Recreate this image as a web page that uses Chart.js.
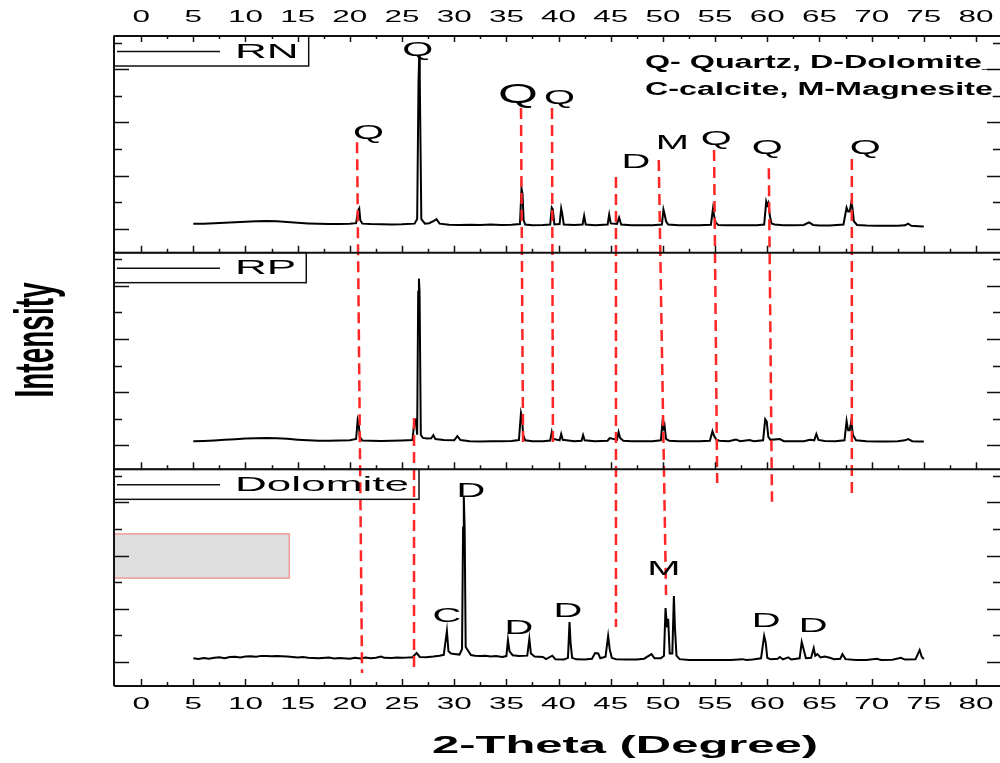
<!DOCTYPE html>
<html>
<head>
<meta charset="utf-8">
<script src="https://cdn.jsdelivr.net/npm/chart.js@4.4.1/dist/chart.umd.min.js"></script>
<style>
  html, body { margin: 0; padding: 0; background: #fff; }
  #wrap { width: 1000px; height: 763px; }
</style>
</head>
<body>
<div id="wrap"><canvas id="xrdChart" width="1000" height="763"></canvas></div>
<script>
// 2-theta tick labels (top and bottom axes)
const xTickLabels = [0, 5, 10, 15, 20, 25, 30, 35, 40, 45, 50, 55, 60, 65, 70, 75, 80];
// intensity ticks inside every panel (panel units 0-100), no labels
const yTickOffsets = [11.1, 23.4, 35.6, 47.9, 60.2, 72.5, 84.8, 97.0];

const panelNames = ["RN", "RP", "Dolomite"];
const panelOffsets = [200, 100, 0];

// [2-theta, intensity in panel units]
const rnPattern = [
  [5, 13.3], [6, 13.4], [7, 13.6], [8, 13.8], [9, 14.0], [10, 14.3], [11, 14.5], [12, 14.6],
  [13, 14.5], [14, 14.2], [15, 13.8], [16, 13.5], [17, 13.3], [18, 13.2], [19, 13.2], [20, 13.3],
  [20.6, 13.6], [20.8, 19.5], [20.9, 20.4], [21.0, 15], [21.2, 13.4], [22, 13.2], [23, 13.1],
  [24, 13.0], [25, 13.1], [26.2, 13.4], [26.45, 15.5], [26.58, 79], [26.64, 90], [26.7, 80],
  [26.85, 15.5], [27.2, 13.4], [27.6, 13.6], [28.0, 14.5], [28.3, 15.5], [28.6, 13.4], [29.5, 12.9],
  [30.5, 12.8], [31.5, 12.9], [32.5, 12.8], [33.5, 13.0], [34.5, 12.8], [35.5, 12.9], [36.3, 13.2],
  [36.45, 29.6], [36.55, 27], [36.65, 15], [36.8, 13], [37.5, 12.7], [38.5, 12.8], [39.2, 13],
  [39.35, 20.8], [39.45, 20], [39.6, 13], [40.1, 13.2], [40.25, 20.4], [40.35, 18], [40.5, 13],
  [41.5, 12.8], [42.3, 13], [42.45, 17], [42.6, 13], [43.5, 12.7], [44.7, 13], [44.85, 17.6],
  [45.0, 13.5], [45.6, 13.3], [45.8, 16.2], [46.0, 13], [47, 12.6], [48, 12.6], [49, 12.7],
  [49.9, 13], [50.05, 19.9], [50.15, 18], [50.3, 14.5], [50.5, 13], [51.5, 12.6], [52.5, 12.6],
  [53.5, 12.7], [54.6, 12.9], [54.8, 20.4], [54.9, 17], [55.05, 14], [55.3, 12.8], [56, 12.6],
  [57, 12.7], [58, 12.6], [59, 12.6], [59.7, 13], [59.9, 23.6], [60.0, 22], [60.1, 23],
  [60.25, 17], [60.4, 13.5], [60.7, 13], [61.5, 12.6], [62.5, 12.6], [63.5, 12.8], [64.0, 14],
  [64.4, 12.8], [65, 12.5], [66, 12.5], [67.3, 13], [67.6, 20.8], [67.75, 19], [67.9, 19],
  [68.05, 23], [68.15, 21], [68.3, 14.5], [68.6, 12.8], [69.5, 12.5], [70.5, 12.4], [71.5, 12.4],
  [72.5, 12.4], [73.2, 12.6], [73.5, 13.4], [73.8, 12.4], [74.5, 12.2], [75, 12.1]
];

const rpPattern = [
  [5, 13.0], [6, 13.1], [7, 13.3], [8, 13.6], [9, 13.9], [10, 14.2], [11, 14.4], [12, 14.5],
  [13, 14.4], [14, 14.1], [15, 13.7], [16, 13.4], [17, 13.2], [18, 13.2], [19, 13.3], [20, 13.4],
  [20.6, 14], [20.75, 22.8], [20.85, 21], [20.95, 15], [21.2, 13.3], [22, 13.2], [23, 13.1],
  [24, 13.2], [25, 13.3], [26.0, 13.5], [26.2, 23], [26.3, 23], [26.45, 16], [26.55, 82],
  [26.62, 88], [26.68, 82], [26.8, 16], [27.0, 14.5], [27.4, 14.2], [27.8, 14.3], [28.0, 15.8],
  [28.2, 14], [29, 13.5], [30.0, 13.4], [30.3, 15.3], [30.6, 13.5], [31.5, 13], [32.5, 12.9],
  [33.5, 13], [34.5, 13], [35.5, 13.1], [36.2, 13.5], [36.4, 26], [36.5, 24], [36.6, 16],
  [36.8, 13.4], [37.5, 13], [38.5, 13], [39.2, 13.3], [39.35, 17.2], [39.5, 14], [40.1, 13.4],
  [40.25, 16.3], [40.4, 13.6], [41.5, 13], [42.2, 13.2], [42.35, 15.8], [42.5, 13.4], [43.5, 13],
  [44.7, 13.2], [44.9, 14.4], [45.6, 13.6], [45.75, 17.2], [45.9, 14.5], [46.2, 13.2], [47, 13],
  [48, 13], [49, 13], [49.8, 13.4], [49.95, 21.3], [50.05, 19], [50.15, 20.5], [50.3, 14],
  [50.6, 13.2], [51.5, 13], [52.5, 13], [53.5, 13], [54.5, 13.2], [54.75, 17.6], [54.9, 15.5],
  [55.1, 13.8], [55.4, 13.2], [56.3, 13], [57.0, 13.8], [57.4, 13], [58.3, 13.5], [58.7, 13],
  [59.6, 13.4], [59.8, 23.1], [59.95, 22], [60.1, 15], [60.3, 13.6], [61.2, 14], [61.6, 13],
  [62.5, 13], [63.5, 13], [64.1, 13.6], [64.5, 13.4], [64.7, 16.3], [64.9, 13.6], [65.5, 13.1],
  [66.5, 13], [67.4, 13.4], [67.6, 22.3], [67.75, 18], [67.9, 18], [68.05, 22.3], [68.2, 16],
  [68.5, 13.4], [69.5, 13], [70.5, 12.9], [71.5, 12.9], [72.5, 13], [73.2, 13.4], [73.5, 14],
  [73.9, 13], [74.5, 12.8], [75, 12.8]
];

const dolomitePattern = [
  [5, 12.8], [5.5, 12.5], [6, 12.9], [6.5, 12.6], [7, 13.0], [7.5, 13.3], [8, 12.8], [8.5, 13.4],
  [9, 13.5], [9.5, 13.2], [10, 13.6], [10.5, 13.7], [11, 13.5], [11.5, 13.9], [12, 13.9],
  [12.5, 13.7], [13, 13.8], [14, 13.6], [15, 13.2], [15.5, 13.4], [16, 13.0], [17, 12.8],
  [18, 13.1], [18.5, 12.7], [19, 12.9], [20, 12.6], [20.5, 13.0], [21, 12.7], [21.5, 13.2],
  [22, 12.8], [22.5, 13.0], [23, 13.6], [23.3, 13], [24, 12.9], [24.5, 13.2], [25, 13.0],
  [25.5, 13.1], [26.0, 13.3], [26.4, 15.2], [26.7, 13.4], [27.3, 13.3], [28, 13.6], [28.6, 14],
  [29.0, 14.4], [29.3, 25.4], [29.45, 16], [29.7, 15], [30.0, 14.8], [30.5, 14.5], [30.75, 17],
  [30.85, 73], [30.92, 87.2], [31.0, 73], [31.1, 18], [31.3, 16.5], [31.6, 14.3], [32, 14],
  [32.5, 13.8], [33, 14], [33.5, 13.6], [34, 13.8], [34.6, 13.4], [35.0, 13.8], [35.15, 21.2],
  [35.3, 16], [35.6, 14.2], [36.2, 13.8], [37.0, 14], [37.2, 21.7], [37.35, 15], [37.7, 13.6],
  [38.5, 13.4], [38.8, 12.4], [39.4, 14], [39.7, 12.3], [40.5, 12.2], [40.9, 13], [41.05, 29.5],
  [41.15, 20], [41.3, 13], [41.7, 12.3], [42.5, 12.2], [43.2, 12.6], [43.5, 15.2], [43.8, 15],
  [44.0, 12.8], [44.5, 13.5], [44.75, 23.1], [44.9, 17], [45.1, 13], [45.5, 12.4], [46.5, 12.2],
  [47.5, 12.2], [48.2, 12.6], [48.9, 14.7], [49.2, 12.8], [49.8, 12.8], [50.1, 14], [50.25, 36],
  [50.4, 27], [50.5, 31], [50.65, 15], [50.9, 15], [51.05, 41.5], [51.15, 27], [51.3, 14],
  [51.6, 12.4], [52.5, 12], [53.5, 12], [54.5, 12], [55.5, 12], [56.5, 12], [57.6, 12.4],
  [58.0, 12], [58.6, 12.2], [59.4, 12.8], [59.7, 23.1], [59.85, 20], [60.0, 13], [60.3, 12.4],
  [61.0, 12.6], [61.2, 13.4], [61.5, 12.3], [62.0, 13.2], [62.3, 12.2], [63.1, 12.8],
  [63.3, 20.3], [63.45, 17.5], [63.7, 12.8], [64.2, 13], [64.45, 17.5], [64.6, 14], [64.8, 14.7],
  [65.1, 13.2], [65.5, 13.6], [66.0, 13], [66.4, 12.4], [67.0, 12.6], [67.2, 14.7], [67.5, 12.4],
  [68.5, 12], [69.5, 12], [70.5, 12.6], [70.9, 12], [72, 12.1], [72.8, 13], [73.2, 12.2],
  [74.2, 12.3], [74.6, 16.6], [74.8, 13.5], [75, 12.4]
];

// red dashed reference lines: 2-theta at top/bottom end, stacked intensity at top/bottom end
const refLineTheta = [[20.69, 21.17], [26.15, 26.15], [36.4, 36.6], [39.37, 39.46], [45.5, 45.5],
  [49.6, 50.3], [54.9, 55.2], [60.15, 60.45], [68.1, 68.1]];
const refLineSpan = [[251, 6], [123.7, 6], [266.8, 112.2], [266.8, 112.2], [234.9, 27.2],
  [242.8, 42], [247.4, 93.7], [239, 85], [243.2, 89]];

// phase letters
const phaseText = ["Q", "Q", "Q", "Q", "D", "M", "Q", "Q", "Q", "D", "C", "D", "D", "M", "D", "D"];
const phaseTheta = [21.8, 26.5, 36.1, 40.1, 47.4, 50.9, 55.1, 60.0, 69.4, 31.6, 29.3, 36.2, 40.9, 50.1, 59.9, 64.4];
const phaseY = [256, 294.4, 273.7, 272, 242.7, 251.5, 253, 249, 249, 90.9, 32.8, 27.7, 35.5, 54.9, 30.5, 28.6];

const FONT = '"Liberation Sans", Arial, sans-serif';

// text drawn wider than normal, like the stretched original
function wideText(ctx, text, x, capMid, size, weight, sx, align) {
  ctx.save();
  ctx.font = weight + " " + size + "px " + FONT;
  ctx.textAlign = align || "center";
  ctx.textBaseline = "alphabetic";
  ctx.fillStyle = "#000";
  ctx.translate(x, capMid + size * 0.358);
  ctx.scale(sx, 1);
  ctx.fillText(text, 0, 0);
  ctx.restore();
}

const decor = {
  id: "xrdDecor",
  beforeDatasetsDraw(chart) {
    const { ctx, chartArea: a, scales: { x, y } } = chart;
    // grey box in the Dolomite panel
    const gx2 = x.getPixelForValue(14.2);
    const gy1 = y.getPixelForValue(70.2);
    const gy2 = y.getPixelForValue(49.8);
    ctx.save();
    ctx.fillStyle = "#dedede";
    ctx.fillRect(a.left, gy1, gx2 - a.left, gy2 - gy1);
    ctx.strokeStyle = "#f39a9a";
    ctx.lineWidth = 1.5;
    ctx.strokeRect(a.left, gy1, gx2 - a.left, gy2 - gy1);
    ctx.restore();
  },
  afterDatasetsDraw(chart) {
    const { ctx, chartArea: a, scales: { x, y } } = chart;
    ctx.save();
    ctx.strokeStyle = "#111";
    ctx.lineWidth = 2;

    // frame lines and panel separators
    const bounds = [300, 200, 100, 0].map(v => y.getPixelForValue(v));
    ctx.beginPath();
    bounds.forEach(py => { ctx.moveTo(a.left, py); ctx.lineTo(a.right, py); });
    ctx.moveTo(a.left, a.top);
    ctx.lineTo(a.left, a.bottom);
    ctx.stroke();

    // x ticks
    ctx.lineWidth = 1.5;
    ctx.beginPath();
    xTickLabels.forEach(v => {
      const px = Math.round(x.getPixelForValue(v)) + 0.5;
      ctx.moveTo(px, a.top); ctx.lineTo(px, a.top + 6);
      bounds.slice(1).forEach(py => { ctx.moveTo(px, py); ctx.lineTo(px, py - 7); });
      const mv = v + 2.5;
      if (mv < x.max) {
        const mx = Math.round(x.getPixelForValue(mv)) + 0.5;
        ctx.moveTo(mx, a.top); ctx.lineTo(mx, a.top + 3);
        bounds.slice(1).forEach(py => { ctx.moveTo(mx, py); ctx.lineTo(mx, py - 4); });
      }
    });
    // y ticks, left and right, per panel
    panelOffsets.forEach(off => {
      yTickOffsets.forEach((t, i) => {
        const py = Math.round(y.getPixelForValue(off + t)) + 0.5;
        const len = i % 2 === 0 ? 15 : 8;
        ctx.moveTo(a.left, py); ctx.lineTo(a.left + len, py);
        ctx.moveTo(a.right, py); ctx.lineTo(a.right - (i % 2 === 0 ? 13 : 7), py);
      });
    });
    ctx.stroke();

    // tick labels
    xTickLabels.forEach(v => {
      const px = x.getPixelForValue(v);
      wideText(ctx, String(v), px, 15.5, 17, "normal", 1.85);
      wideText(ctx, String(v), px, 703, 17, "normal", 1.85);
    });

    // panel legends
    panelNames.forEach((name, i) => {
      const top = y.getPixelForValue(panelOffsets[i] + 100);
      ctx.font = "normal 21px " + FONT;
      const tw = ctx.measureText(name).width * 2.1;
      const tx = a.left + 121;
      ctx.lineWidth = 1.5;
      ctx.strokeStyle = "#111";
      ctx.strokeRect(a.left, top, tx + tw + 10 - a.left, 30);
      ctx.beginPath();
      ctx.moveTo(a.left + 3, top + 15.5);
      ctx.lineTo(a.left + 106, top + 15.5);
      ctx.stroke();
      wideText(ctx, name, tx, top + 14, 21, "normal", 2.1, "left");
    });

    // phase letters
    phaseText.forEach((t, i) => {
      const size = i === 2 ? 27 : 21;
      wideText(ctx, t, x.getPixelForValue(phaseTheta[i]), y.getPixelForValue(phaseY[i]), size, "normal", 1.9);
    });

    // phase key, top right
    ctx.font = "bold 18px " + FONT;
    const keyS = 337 / ctx.measureText("Q- Quartz, D-Dolomite").width;
    wideText(ctx, "Q- Quartz, D-Dolomite_", 645, 62, 18, "bold", keyS, "left");
    wideText(ctx, "C-calcite, M-Magnesite_", 645, 89, 18, "bold", keyS, "left");

    // axis titles
    ctx.font = "bold 24px " + FONT;
    const titleS = 386 / ctx.measureText("2-Theta (Degree)").width;
    wideText(ctx, "2-Theta (Degree)", 432, 744, 24, "bold", titleS, "left");

    ctx.save();
    ctx.font = "bold 28px " + FONT;
    ctx.fillStyle = "#000";
    ctx.textAlign = "center";
    ctx.textBaseline = "alphabetic";
    ctx.translate(53, 340);
    ctx.rotate(-Math.PI / 2);
    ctx.scale(1, 2);
    ctx.fillText("Intensity", 0, 0);
    ctx.restore();

    ctx.restore();
  }
};

const patterns = [rnPattern, rpPattern, dolomitePattern];
const datasets = [];

refLineTheta.forEach((th, i) => {
  datasets.push({
    label: "ref" + i,
    data: [{ x: th[0], y: refLineSpan[i][0] }, { x: th[1], y: refLineSpan[i][1] }],
    borderColor: "#ff2626",
    borderWidth: 2.5,
    borderDash: [11, 6],
    pointRadius: 0,
    order: 1,
  });
});

patterns.forEach((p, i) => {
  datasets.push({
    label: panelNames[i],
    data: p.map(([t, v]) => ({ x: t, y: v + panelOffsets[i] })),
    borderColor: "#000",
    borderWidth: 2,
    pointRadius: 0,
    tension: 0,
    order: 2,
  });
});

const ctx = document.getElementById("xrdChart").getContext("2d");
const xrdChart = new Chart(ctx, {
  type: "line",
  data: { datasets: datasets },
  options: {
    responsive: false,
    animation: false,
    devicePixelRatio: 1,
    layout: { padding: { left: 114, right: 0, top: 36, bottom: 77 } },
    plugins: {
      legend: { display: false },
      tooltip: { enabled: false },
    },
    scales: {
      x: { type: "linear", min: -2.6, max: 82.3, display: false },
      y: { type: "linear", min: 0, max: 300, display: false },
    },
  },
  plugins: [decor],
});
</script>
</body>
</html>
